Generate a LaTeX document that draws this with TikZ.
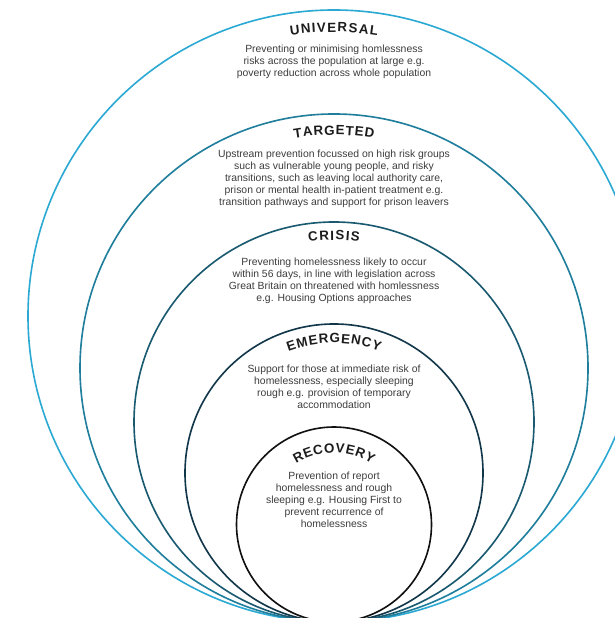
\documentclass[tikz,border=0pt]{standalone}
\usepackage{fontspec}
\setmainfont{Liberation Sans}
\usepackage{tkz-euclide}
\usetikzlibrary{decorations.text}
\definecolor{universal}{HTML}{2BA9D3}
\definecolor{targeted}{HTML}{1F7E9C}
\definecolor{crisis}{HTML}{1A5A70}
\definecolor{emergency}{HTML}{12374A}
\definecolor{recovery}{HTML}{111111}
\definecolor{bodygray}{HTML}{3C3C3C}
\definecolor{titlegray}{HTML}{1C1C1C}
\newcommand{\ringtitle}{\fontsize{19}{21}\selectfont\bfseries}
\tikzset{
	ring/.style={line width=2.3pt},
	body/.style={align=center,inner sep=0pt,text=bodygray,font=\fontsize{14.8}{17.07}\selectfont},
	ringname/.style={decorate,decoration={text along path,text align=fit to path,text color=titlegray}}
}
\begin{document}
\begin{tikzpicture}
		\useasboundingbox (0,0) rectangle (30.7,30.9);
		\tkzDefPoint(16.7,-0.2){T}
		\tkzDefPoint(16.7,15.1){O_{u}}\tkzDefPoint(16.7,12.5){O_{t}}
		\tkzDefPoint(16.7,9.8){O_{c}}\tkzDefPoint(16.7,7.25){O_{e}}
		\tkzDefPoint(16.7,4.675){O_{r}}
		\tkzDrawCircle[ring,color=universal](O_{u},T)
		\tkzDrawCircle[ring,color=targeted](O_{t},T)
		\tkzDrawCircle[ring,color=crisis](O_{c},T)
		\tkzDrawCircle[ring,color=emergency](O_{e},T)
		\tkzDrawCircle[ring,color=recovery](O_{r},T)
		\path[ringname,decoration={text={|\ringtitle|UNIVERSAL}}] (O_{u}) ++(98.8:14.2) arc[start angle=98.8,end angle=81.2,radius=14.2];
		\path[ringname,decoration={text={|\ringtitle|TARGETED}}] (O_{t}) ++(99.8:11.65) arc[start angle=99.8,end angle=80.2,radius=11.65];
		\path[ringname,decoration={text={|\ringtitle|CRISIS}}] (O_{c}) ++(98:9.1) arc[start angle=98,end angle=82,radius=9.1];
		\path[ringname,decoration={text={|\ringtitle|EMERGENCY}}] (O_{e}) ++(110.5:6.5) arc[start angle=110.5,end angle=69.5,radius=6.5];
		\path[ringname,decoration={text={|\ringtitle|RECOVERY}}] (O_{r}) ++(122:3.575) arc[start angle=122,end angle=58,radius=3.575];
		\node[body] (txt_{u}) at (16.7,27.8) {Preventing or minimising homlessness\\risks across the population at large e.g.\\poverty reduction across whole population};
		\node[body] (txt_{t}) at (16.7,21.98) {Upstream prevention focussed on high risk groups\\such as vulnerable young people, and risky\\transitions, such as leaving local authority care,\\prison or mental health in-patient treatment e.g.\\transition pathways and support for prison leavers};
		\node[body] (txt_{c}) at (16.7,16.875) {Preventing homelessness likely to occur\\within 56 days, in line with legislation across\\Great Britain on threatened with homlessness\\e.g. Housing Options approaches};
		\node[body] (txt_{e}) at (16.7,11.575) {Support for those at immediate risk of\\homelessness, especially sleeping\\rough e.g. provision of temporary\\accommodation};
		\node[body] (txt_{r}) at (16.7,5.925) {Prevention of report\\homelessness and rough\\sleeping e.g. Housing First to\\prevent recurrence of\\homelessness};
	\end{tikzpicture}
\end{document}
